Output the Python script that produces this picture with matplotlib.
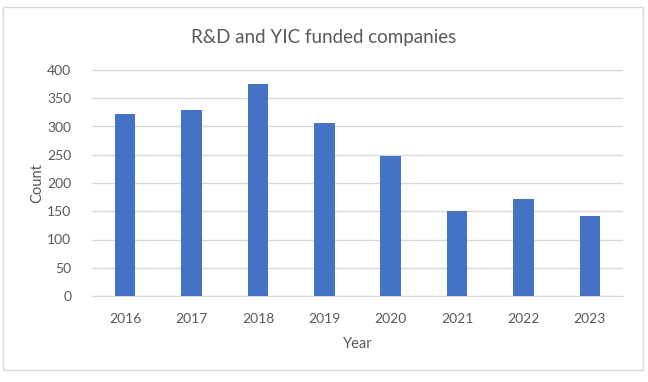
import numpy as np
import matplotlib as mpl
mpl.use('Agg')
import matplotlib.pyplot as plt
from matplotlib.patches import Rectangle

years = ['2016', '2017', '2018', '2019', '2020', '2021', '2022', '2023']
counts = [323, 329, 375, 306, 248, 151, 172, 142]

plt.rcParams['font.family'] = ['Lato', 'DejaVu Sans']

fig = plt.figure(figsize=(6.48, 3.82), dpi=100)
# chart border
fig.patches.append(Rectangle((3 / 648, 1 - 370 / 382), 640 / 648, 363 / 382,
                             transform=fig.transFigure, fill=False,
                             edgecolor='#d9d9d9', linewidth=1))
ax = fig.add_axes([92 / 648, 1 - 296 / 382, (623 - 92) / 648, (296 - 70) / 382])

x = np.arange(len(years))
ax.bar(x, counts, width=0.31, color='#4472c4', zorder=3)
ax.set_xlim(-0.5, len(years) - 0.5)
ax.set_ylim(0, 400)
ax.set_yticks(np.arange(0, 401, 50))
ax.set_xticks(x)
ax.set_xticklabels(years)
ax.grid(axis='y', color='#d9d9d9', linewidth=1, zorder=0)
for s in ['top', 'right', 'left']:
    ax.spines[s].set_visible(False)
ax.spines['bottom'].set_color('#d9d9d9')
ax.tick_params(axis='both', length=0, labelsize=10, colors='#595959')
ax.tick_params(axis='x', pad=12)
ax.tick_params(axis='y', pad=15)
ax.set_xlabel('Year', fontsize=10.5, color='#595959', labelpad=9)
ax.set_ylabel('Count', fontsize=10.5, color='#595959', labelpad=2)
fig.text(0.5, 1 - 37 / 382, 'R&D and YIC funded companies', ha='center',
         va='center', fontsize=13.5, color='#595959')

plt.savefig('out.png', dpi=100)
plt.close()
